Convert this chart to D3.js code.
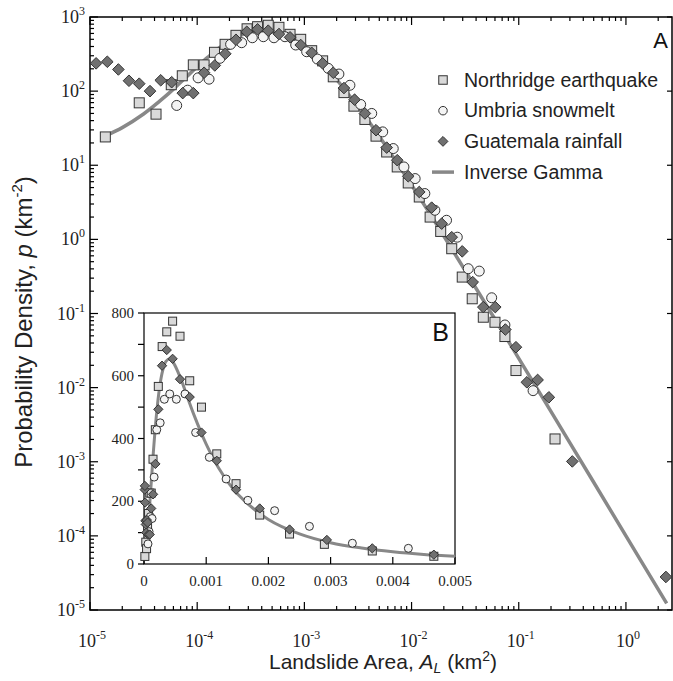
<!DOCTYPE html>
<html>
<head>
<meta charset="utf-8">
<script src="https://cdn.jsdelivr.net/npm/d3@7"></script>
<style>
  body { margin: 0; background: #fff; }
  svg { display: block; }
</style>
</head>
<body>
<svg id="chart" width="673" height="681"></svg>
<script>
// landslide area (km2) and probability density (km-2)
const northridgeArea = [1.39e-5, 2.88e-5, 4.13e-5, 5.73e-5, 7.26e-5, 9.2e-5, 1.16e-4, 1.45e-4, 1.82e-4, 2.30e-4,
  2.92e-4, 3.66e-4, 4.60e-4, 5.79e-4, 7.35e-4, 9.24e-4, 1.17e-3, 1.48e-3, 1.86e-3, 2.34e-3,
  2.90e-3, 3.67e-3, 4.66e-3, 5.86e-3, 7.35e-3, 9.31e-3, 1.18e-2, 1.49e-2, 1.87e-2, 2.37e-2,
  2.97e-2, 3.68e-2, 4.67e-2, 6.00e-2, 7.43e-2, 9.42e-2, 0.218];
const northridgeDensity = [24.1, 69.5, 48.9, 122, 161, 226, 226, 334, 428, 566,
  693, 740, 774, 726, 584, 500, 351, 256, 156, 95.5,
  62.7, 41.5, 24.7, 15.1, 9.49, 5.77, 3.73, 2.00, 1.28, 0.748,
  0.310, 0.158, 0.0891, 0.0762, 0.0489, 0.0170, 0.00203];

const umbriaArea = [6.44e-5, 8.15e-5, 1.02e-4, 1.29e-4, 1.63e-4, 2.05e-4, 2.60e-4, 3.27e-4, 4.14e-4, 5.20e-4,
  6.59e-4, 8.30e-4, 1.05e-3, 1.32e-3, 1.67e-3, 2.10e-3, 2.66e-3, 3.35e-3, 4.25e-3, 5.38e-3,
  6.75e-3, 8.49e-3, 1.08e-2, 1.33e-2, 1.65e-2, 2.12e-2, 2.67e-2, 3.38e-2, 4.28e-2, 5.59e-2,
  7.43e-2, 0.136];
const umbriaDensity = [64.1, 103, 151, 145, 277, 428, 450, 525, 542, 525,
  542, 419, 340, 271, 203, 170, 120, 66.1, 50.0, 28.2,
  16.8, 9.49, 6.61, 4.15, 2.47, 1.81, 1.07, 0.402, 0.373, 0.163,
  0.070, 0.0091];

const guatemalaArea = [1.14e-5, 1.45e-5, 1.84e-5, 2.31e-5, 2.88e-5, 3.63e-5, 4.57e-5, 5.78e-5, 7.33e-5, 9.2e-5,
  1.16e-4, 1.46e-4, 1.83e-4, 2.30e-4, 2.90e-4, 3.66e-4, 4.60e-4, 5.79e-4, 7.35e-4, 9.24e-4,
  1.17e-3, 1.48e-3, 1.86e-3, 2.34e-3, 2.94e-3, 3.67e-3, 4.66e-3, 5.86e-3, 7.35e-3, 9.31e-3,
  1.18e-2, 1.54e-2, 1.91e-2, 2.37e-2, 2.97e-2, 3.72e-2, 4.67e-2, 6.04e-2, 7.50e-2, 9.42e-2,
  0.119, 0.150, 0.191, 0.316, 2.36];
const guatemalaDensity = [237, 249, 196, 138, 126, 100, 140, 132, 94, 94,
  177, 222, 319, 493, 632, 682, 654, 589, 532, 419,
  329, 237, 177, 110, 76.7, 50.0, 29.7, 17.3, 11.7, 7.10,
  4.36, 2.68, 1.63, 1.07, 0.689, 0.265, 0.122, 0.122, 0.0608, 0.0351,
  0.0118, 0.0127, 0.00740, 0.00101, 2.79e-5];

// inverse gamma fit (log panel A)
const gammaArea = [1.41e-5, 2e-5, 3.16e-5, 5.01e-5, 6.31e-5, 7.94e-5, 1e-4, 1.26e-4, 1.58e-4, 2e-4,
  2.51e-4, 3.16e-4, 3.98e-4, 5.01e-4, 6.31e-4, 7.94e-4, 1e-3, 1.26e-3, 1.58e-3, 2e-3,
  2.51e-3, 3.16e-3, 3.98e-3, 5.01e-3, 6.31e-3, 1e-2, 1.78e-2, 3.16e-2, 5.62e-2, 0.1,
  0.316, 1.0, 2.40];
const gammaDensity = [25.2, 32.2, 49.1, 84.1, 113.8, 155.7, 213, 287.7, 377.5, 474,
  564, 628, 653, 631, 569, 480, 381.6, 287, 206.5, 142.6,
  95.1, 61.8, 39.2, 24.4, 14.93, 5.41, 1.457, 0.380, 0.0977, 0.0248,
  0.00159, 1.00e-4, 1.23e-5];

// same fit on the linear inset B
const insetGammaArea = [0, 2e-5, 5e-5, 1e-4, 1.5e-4, 2e-4, 2.5e-4, 3e-4, 3.5e-4, 4e-4,
  4.5e-4, 5e-4, 6e-4, 7e-4, 8e-4, 1e-3, 1.2e-3, 1.5e-3, 2e-3, 2.5e-3,
  3e-3, 3.5e-3, 4e-3, 4.5e-3, 5e-3];
const insetGammaDensity = [12.6, 32.2, 83.8, 213, 355, 475, 562, 616, 645, 653,
  648, 632, 586, 531, 477, 382, 306, 224, 142, 96,
  68, 51, 39, 30.5, 24.5];

const insetXTicks = [0, 0.001, 0.002, 0.003, 0.004, 0.005];
const insetYTicks = [0, 200, 400, 600, 800];
const insetYMinor = [100, 300, 500, 700];

const legendLabels = ["Northridge earthquake", "Umbria snowmelt", "Guatemala rainfall", "Inverse Gamma"];

const sansFont = "'Liberation Sans', Arial, Helvetica, sans-serif";
const serifFont = "'Liberation Serif', 'Times New Roman', Times, serif";
const lineColor = "#888888";

const series = [
  {name: "northridge", area: northridgeArea, density: northridgeDensity, shape: "square", fill: "#d9d9d9"},
  {name: "umbria", area: umbriaArea, density: umbriaDensity, shape: "circle", fill: "#f4f4f4"},
  {name: "guatemala", area: guatemalaArea, density: guatemalaDensity, shape: "diamond", fill: "#707070"}
];

const svg = d3.select("#chart");

// ---------- panel A (log-log) ----------
const x = d3.scaleLog().domain([1e-5, 2.69]).range([90, 672]);
const y = d3.scaleLog().domain([1e-5, 1e3]).range([610, 17]);

function isMajor(t) {
  const l = Math.log10(t);
  return Math.abs(l - Math.round(l)) < 1e-6;
}

const axisG = svg.append("g");
axisG.append("rect")
  .attr("x", x.range()[0]).attr("y", y.range()[1])
  .attr("width", x.range()[1] - x.range()[0])
  .attr("height", y.range()[0] - y.range()[1])
  .attr("fill", "none").attr("stroke", "#000").attr("stroke-width", 1.5);

const xt = x.ticks();
const yt = y.ticks();

// ticks point inward on all sides
axisG.selectAll(".xb").data(xt).join("line")
  .attr("x1", d => x(d)).attr("x2", d => x(d))
  .attr("y1", 610).attr("y2", d => 610 - (isMajor(d) ? 8 : 4))
  .attr("stroke", "#000").attr("stroke-width", 1.2);
axisG.selectAll(".xt").data(xt).join("line")
  .attr("x1", d => x(d)).attr("x2", d => x(d))
  .attr("y1", 17).attr("y2", d => 17 + (isMajor(d) ? 8 : 4))
  .attr("stroke", "#000").attr("stroke-width", 1.2);
axisG.selectAll(".yl").data(yt).join("line")
  .attr("y1", d => y(d)).attr("y2", d => y(d))
  .attr("x1", 90).attr("x2", d => 90 + (isMajor(d) ? 8 : 4))
  .attr("stroke", "#000").attr("stroke-width", 1.2);
axisG.selectAll(".yr").data(yt.filter(isMajor)).join("line")
  .attr("y1", d => y(d)).attr("y2", d => y(d))
  .attr("x1", 672).attr("x2", 667)
  .attr("stroke", "#000").attr("stroke-width", 1.2);

function powerLabel(sel) {
  sel.append("tspan").text("10");
  sel.append("tspan")
    .attr("font-size", 12)
    .attr("dy", -8)
    .text(d => Math.round(Math.log10(d)));
}

axisG.selectAll(".xlab").data(xt.filter(isMajor)).join("text")
  .attr("x", d => x(d) + 2).attr("y", 647)
  .attr("text-anchor", "middle")
  .attr("font-family", serifFont).attr("font-size", 18).attr("fill", "#222")
  .call(powerLabel);

axisG.selectAll(".ylab").data(yt.filter(isMajor)).join("text")
  .attr("x", 85).attr("y", d => y(d) + 6)
  .attr("text-anchor", "end")
  .attr("font-family", serifFont).attr("font-size", 18).attr("fill", "#222")
  .call(powerLabel);

// axis titles
const xTitle = svg.append("text")
  .attr("x", 383).attr("y", 669)
  .attr("text-anchor", "middle")
  .attr("font-family", sansFont).attr("font-size", 21).attr("fill", "#222");
xTitle.append("tspan").text("Landslide Area, ");
xTitle.append("tspan").attr("font-style", "italic").text("A");
xTitle.append("tspan").attr("font-style", "italic").attr("font-size", 14).attr("dy", 4).text("L");
xTitle.append("tspan").attr("dy", -4).text(" (km");
xTitle.append("tspan").attr("font-size", 14).attr("dy", -8).text("2");
xTitle.append("tspan").attr("dy", 8).text(")");

const yTitle = svg.append("text")
  .attr("transform", "translate(32,322) rotate(-90)")
  .attr("text-anchor", "middle")
  .attr("font-family", sansFont).attr("font-size", 24).attr("fill", "#222");
yTitle.append("tspan").text("Probability Density, ");
yTitle.append("tspan").attr("font-style", "italic").text("p");
yTitle.append("tspan").text(" (km");
yTitle.append("tspan").attr("font-size", 15).attr("dy", -10).text("-2");
yTitle.append("tspan").attr("dy", 10).text(")");

// marker helper
function drawMarkers(g, pts, shape, fill, size, sx, sy) {
  if (shape === "circle") {
    g.selectAll("circle").data(pts).join("circle")
      .attr("cx", d => sx(d[0])).attr("cy", d => sy(d[1]))
      .attr("r", size / 2)
      .attr("fill", fill).attr("stroke", "#333").attr("stroke-width", 1);
  } else if (shape === "square") {
    g.selectAll("rect").data(pts).join("rect")
      .attr("x", d => sx(d[0]) - size / 2).attr("y", d => sy(d[1]) - size / 2)
      .attr("width", size).attr("height", size)
      .attr("fill", fill).attr("stroke", "#333").attr("stroke-width", 1);
  } else {
    const h = size * 0.58;
    g.selectAll("path").data(pts).join("path")
      .attr("d", d => {
        const cx = sx(d[0]), cy = sy(d[1]);
        return `M${cx},${cy - h}L${cx + h},${cy}L${cx},${cy + h}L${cx - h},${cy}Z`;
      })
      .attr("fill", fill).attr("stroke", "#333").attr("stroke-width", 1);
  }
}

const curveA = d3.line()
  .x(d => x(d[0])).y(d => y(d[1]))
  .curve(d3.curveCatmullRom);
svg.append("path")
  .datum(d3.zip(gammaArea, gammaDensity))
  .attr("d", curveA)
  .attr("fill", "none").attr("stroke", lineColor).attr("stroke-width", 3.5);

series.forEach(s => {
  drawMarkers(svg.append("g"), d3.zip(s.area, s.density), s.shape, s.fill, 10, x, y);
});

// panel label and legend
svg.append("text").attr("x", 668).attr("y", 48).attr("text-anchor", "end")
  .attr("font-family", sansFont).attr("font-size", 22).attr("fill", "#111").text("A");

const legend = svg.append("g").attr("transform", "translate(443,80)");
legendLabels.forEach((lab, i) => {
  const row = legend.append("g").attr("transform", `translate(0,${i * 30.7})`);
  if (i < 3) {
    drawMarkers(row, [[0, 0]], series[i].shape, series[i].fill, 8.5, v => v, v => v);
  } else {
    row.append("line").attr("x1", -11).attr("x2", 11).attr("y1", 0).attr("y2", 0)
      .attr("stroke", lineColor).attr("stroke-width", 3.5);
  }
  row.append("text").attr("x", 21).attr("y", 6.5)
    .attr("font-family", sansFont).attr("font-size", 19.5).attr("fill", "#222")
    .text(lab);
});

// ---------- inset B (linear) ----------
const xi = d3.scaleLinear().domain([0, 0.005]).range([144, 455]);
const yi = d3.scaleLinear().domain([0, 800]).range([564, 313]);

const inset = svg.append("g");
inset.append("rect")
  .attr("x", 144).attr("y", 313).attr("width", 311).attr("height", 251)
  .attr("fill", "#fff").attr("stroke", "#000").attr("stroke-width", 1.2);

inset.selectAll(".iyt").data(insetYTicks.concat(insetYMinor)).join("line")
  .attr("x1", 144).attr("x2", 138)
  .attr("y1", d => yi(d)).attr("y2", d => yi(d))
  .attr("stroke", "#000").attr("stroke-width", 1.2);
inset.selectAll(".ixt").data(insetXTicks).join("line")
  .attr("x1", d => xi(d)).attr("x2", d => xi(d))
  .attr("y1", 564).attr("y2", 557)
  .attr("stroke", "#000").attr("stroke-width", 1.2);

inset.selectAll(".iylab").data(insetYTicks).join("text")
  .attr("x", 134).attr("y", d => yi(d) + 5)
  .attr("text-anchor", "end")
  .attr("font-family", serifFont).attr("font-size", 15).attr("fill", "#222")
  .text(d => d);
inset.selectAll(".ixlab").data(insetXTicks).join("text")
  .attr("x", d => xi(d)).attr("y", 586)
  .attr("text-anchor", "middle")
  .attr("font-family", serifFont).attr("font-size", 15).attr("fill", "#222")
  .text(d => d === 0 ? "0" : d3.format(".3f")(d));

const curveB = d3.line()
  .x(d => xi(d[0])).y(d => yi(d[1]))
  .curve(d3.curveCatmullRom);
inset.append("path")
  .datum(d3.zip(insetGammaArea, insetGammaDensity))
  .attr("d", curveB)
  .attr("fill", "none").attr("stroke", lineColor).attr("stroke-width", 3);

series.forEach(s => {
  const pts = d3.zip(s.area, s.density).filter(d => d[0] <= 0.005);
  drawMarkers(inset.append("g"), pts, s.shape, s.fill, 8, xi, yi);
});

inset.append("text").attr("x", 449).attr("y", 341).attr("text-anchor", "end")
  .attr("font-family", sansFont).attr("font-size", 25).attr("fill", "#111").text("B");
</script>
</body>
</html>
